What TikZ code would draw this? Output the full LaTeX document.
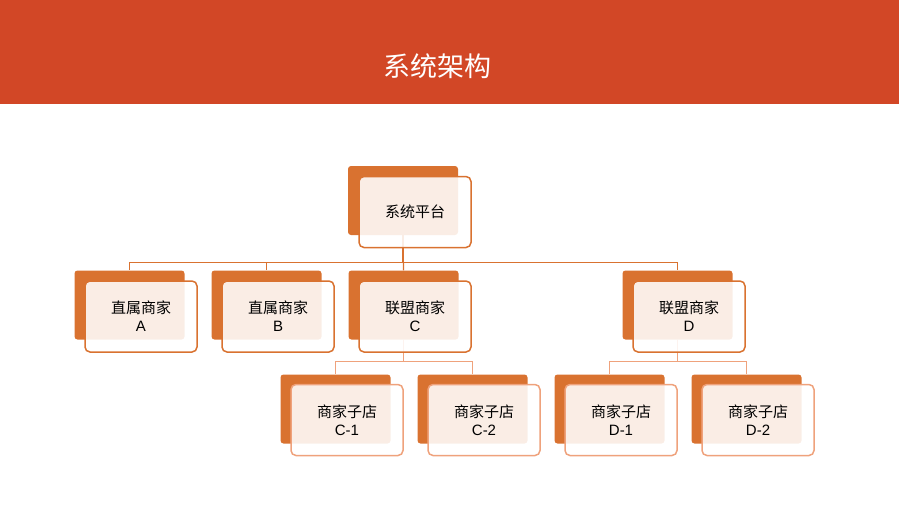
\documentclass[tikz,border=0pt]{standalone}
\usepackage{fontspec}
\setmainfont{Liberation Sans}
\newfontfamily\cjk{Noto Sans CJK SC}
\definecolor{banner}{HTML}{D24726}
\definecolor{deep}{HTML}{D97230}
\definecolor{soft}{HTML}{EFA27C}
\tikzset{
  backbox/.style={rectangle, rounded corners=3pt, fill=deep, minimum width=110pt, minimum height=69pt, inner sep=0pt},
  frontbox/.style={rectangle, rounded corners=5pt, draw=deep, line width=1.5pt, fill=white, fill opacity=0.88, text opacity=1, minimum width=112pt, minimum height=71pt, align=center, font=\fontsize{15}{18}\selectfont, inner sep=0pt},
  link/.style={deep, line width=1.2pt}
}
\begin{document}
\begin{tikzpicture}[x=1pt,y=-1pt]
  \useasboundingbox (0,0) rectangle (899,504);
  \fill[banner] (0,0) rectangle (899,104);
  \node[text=white, font=\cjk\fontsize{27}{30}\selectfont] (title) at (437,66) {系统架构};

  % back plates
  \node[backbox] (sysb) at (403,200.5) {};
  \node[backbox] (ab) at (129.5,305) {};
  \node[backbox] (bb) at (266.5,305) {};
  \node[backbox] (cb) at (403.5,305) {};
  \node[backbox] (db) at (677.5,305) {};
  \node[backbox] (c1b) at (335.5,409) {};
  \node[backbox] (c2b) at (472.5,409) {};
  \node[backbox] (d1b) at (609.5,409) {};
  \node[backbox] (d2b) at (746.5,409) {};

  % connectors
  \draw[link] (sysb.south) -- ++(0,27) -| (ab.north);
  \draw[link] (sysb.south) -- ++(0,27) -| (bb.north);
  \draw[link] (sysb.south) -- (cb.north);
  \draw[link] (sysb.south) -- ++(0,27) -| (db.north);
  \draw[link, soft] (cb.south) -- ++(0,22) -| (c1b.north);
  \draw[link, soft] (cb.south) -- ++(0,22) -| (c2b.north);
  \draw[link, soft] (db.south) -- ++(0,22) -| (d1b.north);
  \draw[link, soft] (db.south) -- ++(0,22) -| (d2b.north);

  % front boxes
  \node[frontbox] (sys) at (415,212) {{\cjk 系统平台}};
  \node[frontbox] (a) at (141,316.5) {{\cjk 直属商家}\\A};
  \node[frontbox] (b) at (278,316.5) {{\cjk 直属商家}\\B};
  \node[frontbox] (c) at (415,316.5) {{\cjk 联盟商家}\\C};
  \node[frontbox] (d) at (689,316.5) {{\cjk 联盟商家}\\D};
  \node[frontbox, draw=soft] (c1) at (347,420) {{\cjk 商家子店}\\C-1};
  \node[frontbox, draw=soft] (c2) at (484,420) {{\cjk 商家子店}\\C-2};
  \node[frontbox, draw=soft] (d1) at (621,420) {{\cjk 商家子店}\\D-1};
  \node[frontbox, draw=soft] (d2) at (758,420) {{\cjk 商家子店}\\D-2};
\end{tikzpicture}
\end{document}
